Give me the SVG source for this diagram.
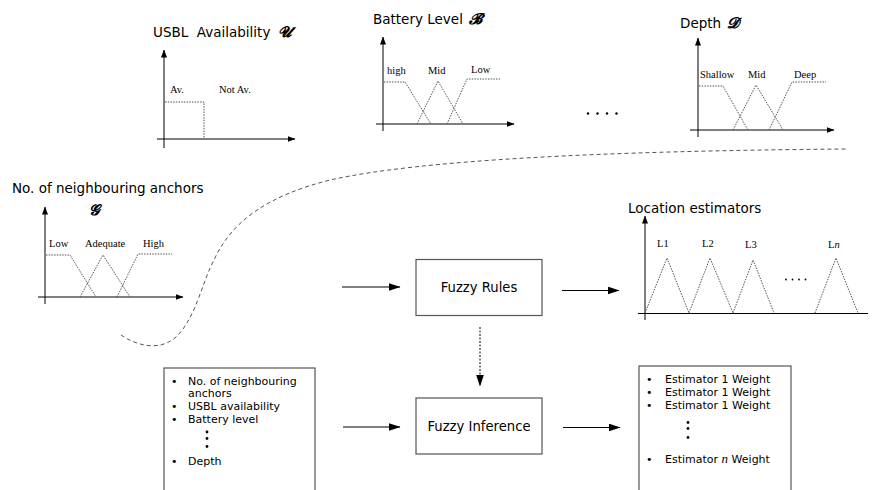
<svg xmlns="http://www.w3.org/2000/svg" width="874" height="490" viewBox="0 0 874 490">
<defs>
<marker id="ax" viewBox="0 0 8 6" refX="7.5" refY="3" markerWidth="8" markerHeight="6" markerUnits="userSpaceOnUse" orient="auto"><path d="M0,0 L8,3 L0,6 Z" fill="#000"/></marker>
<marker id="ar" viewBox="0 0 12 8" refX="11.5" refY="4" markerWidth="12" markerHeight="8" markerUnits="userSpaceOnUse" orient="auto"><path d="M0,0 L12,4 L0,8 Z" fill="#000"/></marker>
<marker id="ard" viewBox="0 0 8 12" refX="4" refY="11.5" markerWidth="8" markerHeight="12" markerUnits="userSpaceOnUse" orient="0"><path d="M0,0 L8,0 L4,12 Z" fill="#000"/></marker>
</defs>
<style>
.t{font-family:"DejaVu Sans","Liberation Sans",sans-serif;font-size:13.5px;fill:#000}
.s{font-family:"DejaVu Serif","Liberation Serif",serif;font-size:15px;font-weight:bold;font-style:italic;fill:#000}
.lb{font-family:"Liberation Serif","DejaVu Serif",serif;font-size:10.5px;fill:#000}
.bx{font-family:"DejaVu Sans","Liberation Sans",sans-serif;font-size:13.2px;fill:#000}
.li{font-family:"DejaVu Sans","Liberation Sans",sans-serif;font-size:11px;fill:#000}
.axis{stroke:#000;stroke-width:1;fill:none}
.mf{stroke:#555;stroke-width:1;stroke-dasharray:1.5 1.2;fill:none}
.box{stroke:#555;stroke-width:1.2;fill:#fff}
.con{stroke:#000;stroke-width:1.2;fill:none}
</style>

<g id="usbl">
<text class="t" x="153" y="37" xml:space="preserve">USBL  Availability <tspan class="s" dx="3">𝓤</tspan></text>
<line class="axis" x1="164" y1="148" x2="164" y2="50" marker-end="url(#ax)"/>
<line class="axis" x1="157" y1="139" x2="295" y2="139" marker-end="url(#ax)"/>
<polyline class="mf" points="165,102 204,102 204,139"/>
<text class="lb" x="170" y="93">Av.</text>
<text class="lb" x="219" y="93">Not Av.</text>
</g>

<g id="battery">
<text class="t" x="373" y="24">Battery Level <tspan class="s" dx="2">𝓑</tspan></text>
<line class="axis" x1="383" y1="131" x2="383" y2="37" marker-end="url(#ax)"/>
<line class="axis" x1="376" y1="124" x2="514" y2="124" marker-end="url(#ax)"/>
<polyline class="mf" points="384,82 405,82 431,124"/>
<polyline class="mf" points="417,124 438,81 463,124"/>
<polyline class="mf" points="447,124 467,79 500,79"/>
<text class="lb" x="387" y="74">high</text>
<text class="lb" x="428" y="74">Mid</text>
<text class="lb" x="471" y="73">Low</text>
</g>

<g id="depth">
<text class="t" x="680" y="28">Depth <tspan class="s" dx="2">𝓓</tspan></text>
<line class="axis" x1="698" y1="137" x2="698" y2="38" marker-end="url(#ax)"/>
<line class="axis" x1="690" y1="130" x2="834" y2="130" marker-end="url(#ax)"/>
<polyline class="mf" points="699,86 723,86 748,130"/>
<polyline class="mf" points="733,130 756,85 783,130"/>
<polyline class="mf" points="769,130 792,82 826,82"/>
<text class="lb" x="700" y="78">Shallow</text>
<text class="lb" x="748" y="78">Mid</text>
<text class="lb" x="794" y="78">Deep</text>
</g>

<g id="more-inputs">
<circle cx="588" cy="113.5" r="1.2" fill="#000"/>
<circle cx="597.5" cy="113.5" r="1.2" fill="#000"/>
<circle cx="607" cy="113.5" r="1.2" fill="#000"/>
<circle cx="616.5" cy="113.5" r="1.2" fill="#000"/>
</g>

<g id="neighbours">
<text class="t" x="12" y="193">No. of neighbouring anchors</text>
<text class="s" x="89" y="215">𝓖</text>
<line class="axis" x1="45" y1="304" x2="45" y2="207" marker-end="url(#ax)"/>
<line class="axis" x1="38" y1="297" x2="183" y2="297" marker-end="url(#ax)"/>
<polyline class="mf" points="46,255 70,255 96,297"/>
<polyline class="mf" points="80,297 103,255 130,297"/>
<polyline class="mf" points="117,297 138,254 172,254"/>
<text class="lb" x="49" y="247">Low</text>
<text class="lb" x="85" y="247">Adequate</text>
<text class="lb" x="143" y="247">High</text>
</g>

<g id="location-estimators">
<text class="t" x="628" y="213">Location estimators</text>
<line class="axis" x1="645" y1="320" x2="645" y2="216" marker-end="url(#ax)"/>
<line class="axis" x1="638" y1="313.5" x2="868" y2="313.5"/>
<polyline class="mf" points="645,313 667,258 689,313"/>
<polyline class="mf" points="689,313 710,258 733,313"/>
<polyline class="mf" points="733,313 753,260 774,313"/>
<polyline class="mf" points="815,313 836,258 858,313"/>
<text class="lb" x="657" y="247">L1</text>
<text class="lb" x="702" y="247">L2</text>
<text class="lb" x="745" y="248">L3</text>
<text class="lb" x="828" y="248">L<tspan font-style="italic">n</tspan></text>
<circle cx="786" cy="279.5" r="0.9" fill="#000"/>
<circle cx="792.5" cy="279.5" r="0.9" fill="#000"/>
<circle cx="799" cy="279.5" r="0.9" fill="#000"/>
<circle cx="805.5" cy="279.5" r="0.9" fill="#000"/>
</g>

<g id="fuzzy-rules">
<rect class="box" x="416" y="259.5" width="126" height="56"/>
<text class="bx" x="479" y="292" text-anchor="middle">Fuzzy Rules</text>
</g>

<g id="fuzzy-inference">
<rect class="box" x="416" y="398" width="126" height="56"/>
<text class="bx" x="479" y="430.5" text-anchor="middle">Fuzzy Inference</text>
</g>

<g id="inputs-list">
<rect class="box" x="164" y="368" width="151" height="130"/>
<g class="li">
<text x="171" y="385">•</text><text x="188" y="385">No. of neighbouring</text>
<text x="188" y="397">anchors</text>
<text x="171" y="410">•</text><text x="188" y="410">USBL availability</text>
<text x="171" y="423">•</text><text x="188" y="423">Battery level</text>
<text x="171" y="465">•</text><text x="188" y="465">Depth</text>
</g>
<circle cx="207" cy="432" r="1.4" fill="#000"/>
<circle cx="207" cy="438.5" r="1.4" fill="#000"/>
<circle cx="207" cy="446.5" r="1.4" fill="#000"/>
</g>

<g id="weights-list">
<rect class="box" x="639" y="366" width="152" height="132"/>
<g class="li">
<text x="646" y="383">•</text><text x="665" y="383">Estimator 1 Weight</text>
<text x="646" y="396">•</text><text x="665" y="396">Estimator 1 Weight</text>
<text x="646" y="409">•</text><text x="665" y="409">Estimator 1 Weight</text>
<text x="646" y="463">•</text><text x="665" y="463">Estimator <tspan font-family="Liberation Serif,serif" font-style="italic" font-size="13">n</tspan> Weight</text>
</g>
<circle cx="688" cy="422.5" r="1.4" fill="#000"/>
<circle cx="688" cy="428.5" r="1.4" fill="#000"/>
<circle cx="688" cy="437.5" r="1.4" fill="#000"/>
</g>

<g id="connectors">
<line class="con" x1="342" y1="287" x2="400" y2="287" marker-end="url(#ar)"/>
<line class="con" x1="562" y1="290.5" x2="619" y2="290.5" marker-end="url(#ar)"/>
<line class="con" x1="343" y1="427" x2="400" y2="427" marker-end="url(#ar)"/>
<line class="con" x1="563" y1="427.5" x2="620" y2="427.5" marker-end="url(#ar)"/>
<line x1="480" y1="327" x2="480" y2="386" stroke="#000" stroke-width="1" stroke-dasharray="2 1.5" marker-end="url(#ard)"/>
<path d="M121,335 C134,344 158,353 176,337 C196,318 202,282 214,260 C232,220 270,195 330,180 C420,160 600,151 847,149" fill="none" stroke="#555" stroke-width="1" stroke-dasharray="4 3"/>
</g>
</svg>
